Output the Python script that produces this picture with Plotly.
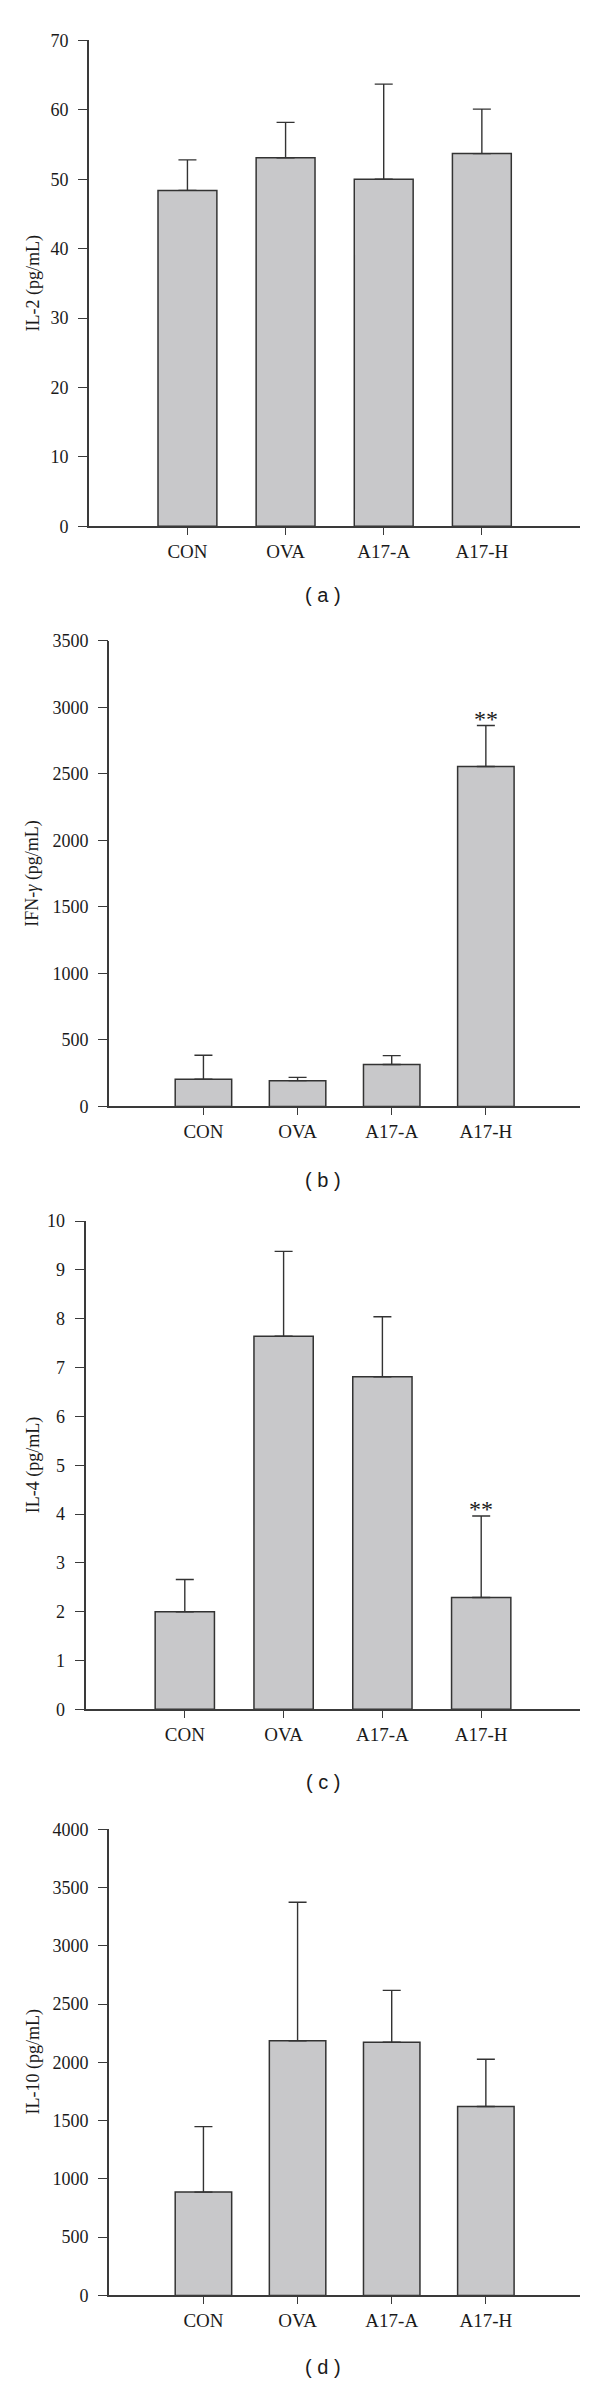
import plotly.graph_objects as go

categories = ["CON", "OVA", "A17-A", "A17-H"]

il2_mean = [48.4, 53.1, 50.0, 53.7]
il2_err = [4.4, 5.1, 13.7, 6.4]

ifng_mean = [205, 194, 316, 2556]
ifng_err = [180, 25, 66, 308]

il4_mean = [2.0, 7.64, 6.81, 2.29]
il4_err = [0.66, 1.74, 1.23, 1.67]

il10_mean = [887, 2186, 2173, 1621]
il10_err = [562, 1189, 445, 406]

y_titles = ["IL-2 (pg/mL)", "IFN-<i>γ</i> (pg/mL)", "IL-4 (pg/mL)", "IL-10 (pg/mL)"]
panel_labels = ["( a )", "( b )", "( c )", "( d )"]
y_ranges = [[0, 70], [0, 3500], [0, 10], [0, 4000]]
y_dticks = [10, 500, 1, 500]
star_idx = [None, 3, 3, None]

W, H = 600, 2392
# pixel geometry of each panel: (x_left, y_top, y_bottom)
geom = [(89.3, 30.7, 520.7), (109.3, 636.3, 1105.7), (86.0, 1221.3, 1713.7), (109.3, 1834.7, 2304.7)]
x_right = 580.0
sub_y = [590, 1180, 1787, 2377]

series = [(il2_mean, il2_err), (ifng_mean, ifng_err), (il4_mean, il4_err), (il10_mean, il10_err)]

AX = "#3a3a3a"
serif = "Liberation Serif, Times New Roman, serif"

fig = go.Figure()
layout = dict(width=W, height=H, margin=dict(l=0, r=0, t=0, b=0),
              paper_bgcolor="white", plot_bgcolor="white", showlegend=False)
annotations = []

for i, (mean, err) in enumerate(series):
    n = "" if i == 0 else str(i + 1)
    xl, yt, yb = geom[i]
    fig.add_trace(go.Bar(
        x=categories, y=mean, width=0.6,
        marker=dict(color="#c8c8ca", line=dict(color="#333333", width=1.5)),
        error_y=dict(type="data", array=err, arrayminus=[0] * len(err), symmetric=False,
                     color="#333333", thickness=1.4, width=9),
        xaxis="x" + n, yaxis="y" + n,
    ))
    layout["xaxis" + n] = dict(
        domain=[xl / W, x_right / W], anchor="y" + n, type="category",
        categoryorder="array", categoryarray=categories, range=[-1, 4],
        showline=True, linecolor=AX, linewidth=1.6, ticks="outside", ticklen=7,
        tickwidth=1.4, tickcolor=AX, showgrid=False, zeroline=False,
        tickfont=dict(family=serif, size=19, color="#1a1a1a"), fixedrange=True,
    )
    layout["yaxis" + n] = dict(
        domain=[1 - yb / H, 1 - yt / H], anchor="x" + n, range=y_ranges[i],
        dtick=y_dticks[i], tick0=0, showline=True, linecolor=AX, linewidth=1.6,
        ticks="outside", ticklen=9.5, tickwidth=1.4, tickcolor=AX, showgrid=False,
        zeroline=False, tickfont=dict(family=serif, size=18, color="#1a1a1a"),
        ticklabelstandoff=6, fixedrange=True,
    )
    annotations.append(dict(
        text=y_titles[i], x=33 / W, y=1 - (yt + yb) / 2 / H, xref="paper", yref="paper",
        textangle=-90, showarrow=False, xanchor="center", yanchor="middle",
        font=dict(family=serif, size=18, color="#1a1a1a"),
    ))
    annotations.append(dict(
        text=panel_labels[i], x=322.7 / W, y=1 - sub_y[i] / H, xref="paper", yref="paper",
        showarrow=False, xanchor="center", yanchor="middle",
        font=dict(family="Liberation Sans, Arial, sans-serif", size=20, color="#1a1a1a"),
    ))
    if star_idx[i] is not None:
        k = star_idx[i]
        annotations.append(dict(
            text="**", x=categories[k], y=mean[k] + err[k], xref="x" + n, yref="y" + n,
            showarrow=False, xanchor="center", yanchor="middle", yshift=7,
            font=dict(family=serif, size=24, color="#1a1a1a"),
        ))

layout["annotations"] = annotations
fig.update_layout(**layout)
fig.write_html("out.html", config={"displayModeBar": False},
               post_script="document.body.style.margin='0px';")
